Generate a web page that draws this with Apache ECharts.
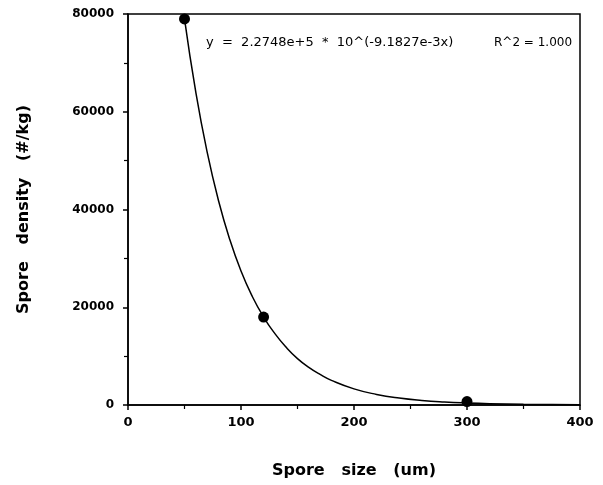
<!DOCTYPE html>
<html><head><meta charset="utf-8">
<script src="https://cdn.jsdelivr.net/npm/echarts@6/dist/echarts.min.js"></script>
<style>html,body{margin:0;padding:0;background:#fff}#c{width:603px;height:485px}</style>
</head><body><div id="c"></div>
<script>
// Measured points
const pointX = [50, 120, 300];
const pointY = [79000, 18000, 700];
// Fitted curve
const curveX = [50, 60, 70, 80, 90, 100, 110, 120, 130, 140, 150, 160, 170, 180, 200, 220, 240, 260, 280, 300, 320, 350, 400];
const curveY = [79000, 64000, 51800, 41900, 33900, 27400, 22200, 18000, 14600, 11800, 9500, 7700, 6250, 5050, 3300, 2170, 1420, 930, 610, 400, 260, 140, 50];
const xTicks = [0, 100, 200, 300, 400];
const yTicks = [0, 20000, 40000, 60000, 80000];
const equationText = 'y  =  2.2748e+5  *  10^(-9.1827e-3x)';
const r2Text = 'R^2 = 1.000';
const xTitle = 'Spore   size   (um)';
const yTitle = 'Spore   density   (#/kg)';

const chart = echarts.init(document.getElementById('c'), null, {renderer: 'canvas'});
const font = '"DejaVu Sans", "Liberation Sans", Arial, sans-serif';
chart.setOption({
  animation: false,
  grid: {left: 128, top: 14, right: 23, bottom: 80, show: true, borderColor: '#000', borderWidth: 1.5, backgroundColor: 'transparent'},
  xAxis: {
    type: 'value', min: xTicks[0], max: xTicks[xTicks.length - 1], interval: 100,
    name: xTitle, nameLocation: 'middle', nameGap: 58,
    nameTextStyle: {fontFamily: font, fontWeight: 'bold', fontSize: 16, color: '#000'},
    axisLine: {show: true, lineStyle: {color: '#000', width: 1.5}},
    axisTick: {show: true, inside: false, length: 5, lineStyle: {color: '#000', width: 1.5}},
    minorTick: {show: true, splitNumber: 2, length: 4, lineStyle: {color: '#000', width: 1.2}},
    splitLine: {show: false},
    axisLabel: {fontFamily: font, fontWeight: 'bold', fontSize: 13, color: '#000', margin: 11}
  },
  yAxis: {
    type: 'value', min: yTicks[0], max: yTicks[yTicks.length - 1], interval: 20000,
    name: yTitle, nameLocation: 'middle', nameGap: 96,
    nameTextStyle: {fontFamily: font, fontWeight: 'bold', fontSize: 16, color: '#000'},
    axisLine: {show: true, lineStyle: {color: '#000', width: 1.5}},
    axisTick: {show: true, inside: false, length: 5, lineStyle: {color: '#000', width: 1.5}},
    minorTick: {show: true, splitNumber: 2, length: 4, lineStyle: {color: '#000', width: 1.2}},
    splitLine: {show: false},
    axisLabel: {fontFamily: font, fontWeight: 'bold', fontSize: 12, color: '#000', margin: 14,
                formatter: v => String(v)}
  },
  graphic: [
    {type: 'text', left: 206, top: 36, style: {text: equationText, font: '13px ' + font, fill: '#000'}},
    {type: 'text', left: 494, top: 37, style: {text: r2Text, font: '12px ' + font, fill: '#000'}}
  ],
  series: [
    {type: 'line', data: curveX.map((x, i) => [x, curveY[i]]), smooth: true, showSymbol: false,
     lineStyle: {color: '#000', width: 1.5}, z: 2},
    {type: 'scatter', data: pointX.map((x, i) => [x, pointY[i]]), symbolSize: 11,
     itemStyle: {color: '#000', opacity: 1}, z: 3}
  ]
});
</script></body></html>
